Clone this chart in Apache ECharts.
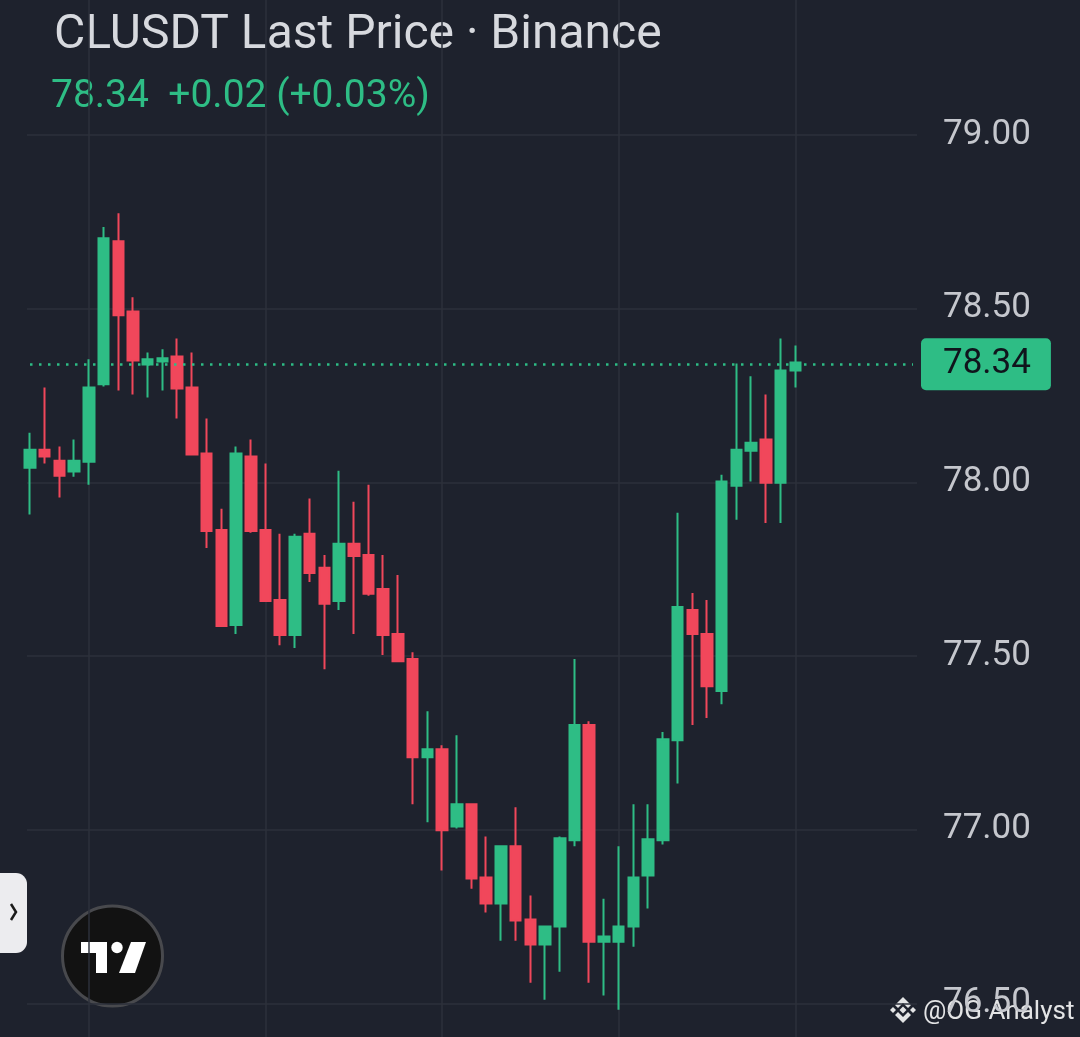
<!DOCTYPE html>
<html>
<head>
<meta charset="utf-8">
<script src="https://cdn.jsdelivr.net/npm/echarts@6/dist/echarts.min.js"></script>
<style>
html,body{margin:0;padding:0;background:#1e222d;}
#c{width:1080px;height:1037px;}
</style>
</head>
<body>
<div id="c"></div>
<script>
// ---- data ----
var opens  = [78.042,78.094,78.062,78.031,78.059,78.282,78.694,78.492,78.339,78.348,78.362,78.273,78.083,77.863,77.589,78.074,77.863,77.661,77.560,77.852,77.754,77.658,77.823,77.791,77.693,77.563,77.491,77.208,77.231,77.009,77.073,76.862,76.787,76.952,76.741,76.669,76.721,76.969,77.301,76.677,76.677,76.721,76.868,76.969,77.257,77.632,77.563,77.399,77.990,78.091,78.123,77.999,78.322];
var closes = [78.094,78.074,78.019,78.062,78.273,78.703,78.481,78.351,78.354,78.357,78.270,78.080,77.860,77.586,78.083,77.860,77.658,77.560,77.843,77.739,77.650,77.823,77.788,77.679,77.560,77.485,77.208,77.231,76.998,77.073,76.859,76.787,76.952,76.738,76.669,76.721,76.975,77.301,76.677,76.692,76.721,76.862,76.972,77.260,77.641,77.563,77.413,78.002,78.094,78.114,77.999,78.322,78.345];
var lows   = [77.907,78.054,77.956,78.016,77.993,78.276,78.264,78.253,78.244,78.264,78.184,78.080,77.811,77.583,77.563,77.855,77.658,77.531,77.523,77.713,77.462,77.632,77.563,77.673,77.503,77.482,77.073,77.021,76.882,77.003,76.830,76.761,76.680,76.680,76.559,76.510,76.591,76.952,76.559,76.522,76.481,76.663,76.773,76.957,77.133,77.301,77.321,77.361,77.892,78.002,77.883,77.883,78.273];
var highs  = [78.143,78.273,78.103,78.123,78.354,78.735,78.775,78.533,78.374,78.383,78.414,78.374,78.184,77.924,78.103,78.123,78.054,77.852,77.852,77.953,77.791,78.033,77.944,77.993,77.791,77.733,77.511,77.341,77.243,77.272,77.073,76.980,76.952,77.064,76.810,76.721,76.980,77.491,77.312,76.801,76.952,77.073,77.073,77.281,77.912,77.681,77.661,78.022,78.342,78.305,78.253,78.414,78.394];
var lastPrice = 78.34;
var priceTicks = [76.5, 77.0, 77.5, 78.0, 78.5, 79.0];
var verticalGridIndex = [4, 16, 28, 40, 52];
var emptySlots = 8;
var titleText = 'CLUSDT Last Price \u00b7 Binance';
var changeText = '78.34  +0.02 (+0.03%)';
var watermark = '@OG Analyst';

var UP = '#2ebd85', DOWN = '#f1475b';
var categories = [];
var candles = [];
for (var i = 0; i < opens.length; i++) {
  categories.push(String(i));
  candles.push([opens[i], closes[i], lows[i], highs[i]]);
}
for (var k = 0; k < emptySlots; k++) { categories.push(String(opens.length + k)); candles.push('-'); }

var chart = echarts.init(document.getElementById('c'), null, {renderer: 'canvas'});
var FONT = 'Roboto, "Noto Sans", sans-serif';

var option = {
  backgroundColor: '#1e222d',
  animation: false,
  grid: [
    {left: 30, right: 167, top: 0, bottom: 0},
    {left: 27, right: 163, top: 135, bottom: 33.7}
  ],
  xAxis: [
    {type: 'category', gridIndex: 0, data: categories, boundaryGap: false,
     axisLine: {show: false}, axisTick: {show: false}, axisLabel: {show: false},
     splitLine: {show: true, interval: function (idx) { return verticalGridIndex.indexOf(idx) >= 0; },
       lineStyle: {color: '#2c303b', width: 1.5}}},
    {type: 'value', gridIndex: 1, min: 0, max: 1, show: false}
  ],
  yAxis: [
    {type: 'value', gridIndex: 0, min: 79 - (1037 - 135) / 347.3, max: 79 + 135 / 347.3, show: false, splitLine: {show: false}},
    {type: 'value', gridIndex: 1, position: 'right', min: priceTicks[0], max: priceTicks[priceTicks.length - 1], interval: 0.5,
     axisLine: {show: false}, axisTick: {show: false},
     axisLabel: {show: true, margin: 26, color: '#c5c7cd', fontSize: 35, fontFamily: FONT, padding: [8, 0, 0, 0],
       formatter: function (v) { return v.toFixed(2); }},
     splitLine: {show: true, lineStyle: {color: '#2c303b', width: 1.5}}}
  ],
  series: [
    {type: 'candlestick', xAxisIndex: 0, yAxisIndex: 0, data: candles, barWidth: 11,
     itemStyle: {color: UP, color0: DOWN, borderColor: UP, borderColor0: DOWN, borderWidth: 2},
     markLine: {silent: true, symbol: ['none', 'none'], animation: false,
       lineStyle: {color: UP, type: [2.5, 6.5], width: 2.5},
       label: {show: true, position: 'end', distance: 8, formatter: lastPrice.toFixed(2),
         backgroundColor: UP, color: '#10141c', fontSize: 35, fontFamily: FONT,
         padding: [11, 20, 3, 22], borderRadius: 5, lineHeight: 38},
       data: [{yAxis: lastPrice}]}}
  ],
  graphic: [
    {type: 'text', style: {text: titleText, x: 54, y: 36, fill: '#d7d9de', font: '48px ' + FONT, textAlign: 'left', textVerticalAlign: 'middle'}},
    {type: 'text', style: {text: changeText, x: 51, y: 97, fill: UP, font: '39px ' + FONT, textAlign: 'left', textVerticalAlign: 'middle'}},
    // side tab
    {type: 'rect', shape: {x: -12, y: 873, width: 39, height: 80, r: 11}, style: {fill: '#ececef'}},
    {type: 'polyline', shape: {points: [[11, 904], [16, 912], [11, 920]]}, style: {stroke: '#1a1a1a', lineWidth: 2.5, fill: null}},
    // tradingview logo
    {type: 'circle', shape: {cx: 112.5, cy: 956, r: 50}, style: {fill: '#121212', stroke: '#48494d', lineWidth: 3}},
    {type: 'polygon', shape: {points: [[81, 942], [107, 942], [107, 973], [96, 973], [96, 953], [81, 953]]}, style: {fill: '#ffffff'}},
    {type: 'circle', shape: {cx: 117, cy: 947.5, r: 5.7}, style: {fill: '#ffffff'}},
    {type: 'polygon', shape: {points: [[131, 942], [146, 942], [135, 973], [119, 973]]}, style: {fill: '#ffffff'}},
    // watermark icon
    {type: 'polygon', shape: {points: [[903, 997], [911, 1005], [908, 1008], [903, 1003], [898, 1008], [895, 1005]]}, style: {fill: 'rgba(255,255,255,0.88)'}},
    {type: 'polygon', shape: {points: [[903, 1023], [911, 1015], [908, 1012], [903, 1017], [898, 1012], [895, 1015]]}, style: {fill: 'rgba(255,255,255,0.88)'}},
    {type: 'polygon', shape: {points: [[903, 1006.5], [906.5, 1010], [903, 1013.5], [899.5, 1010]]}, style: {fill: 'rgba(255,255,255,0.88)'}},
    {type: 'polygon', shape: {points: [[893, 1007], [896, 1010], [893, 1013], [890, 1010]]}, style: {fill: 'rgba(255,255,255,0.88)'}},
    {type: 'polygon', shape: {points: [[913, 1007], [916, 1010], [913, 1013], [910, 1010]]}, style: {fill: 'rgba(255,255,255,0.88)'}},
    {type: 'text', style: {text: watermark, x: 923, y: 1012, fill: 'rgba(255,255,255,0.88)', font: '26px ' + FONT, textAlign: 'left', textVerticalAlign: 'middle',
      shadowColor: 'rgba(0,0,0,0.5)', shadowBlur: 3}}
  ]
};
chart.setOption(option);
</script>
</body>
</html>
